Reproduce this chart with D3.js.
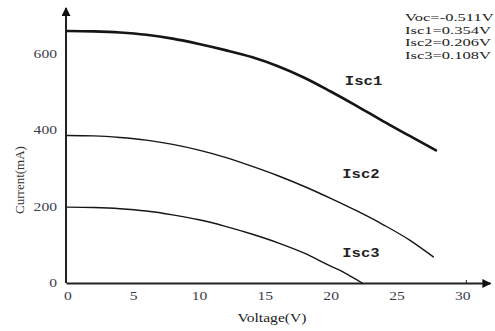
<!DOCTYPE html>
<html>
<head>
<meta charset="utf-8">
<script src="https://cdn.jsdelivr.net/npm/d3@7"></script>
<style>
  html, body { margin: 0; padding: 0; background: #fff; }
  #chart { width: 495px; height: 331px; }
</style>
</head>
<body>
<div id="chart"></div>
<script>
// --- DATA ---
const VOLTAGE_1 = [0, 2, 4, 6, 8, 10, 12, 14, 16, 18, 20, 22, 24, 26, 28];
const CURRENT_1 = [658, 657, 654, 648, 638, 624, 608, 590, 566, 536, 500, 462, 422, 384, 346];

const VOLTAGE_2 = [0, 2, 4, 6, 8, 10, 12, 14, 16, 18, 20, 22, 24, 26, 27.8];
const CURRENT_2 = [385, 384, 380, 373, 362, 347, 328, 305, 280, 252, 221, 188, 152, 112, 68];

const VOLTAGE_3 = [0, 2, 4, 6, 8, 10, 12, 14, 16, 18, 20, 21, 22, 22.4];
const CURRENT_3 = [198, 197, 194, 188, 178, 165, 148, 128, 105, 78, 44, 28, 8, 0];

const SERIES_NAMES = ["Isc1", "Isc2", "Isc3"];
const X_TICKS = [0, 5, 10, 15, 20, 25, 30];
const Y_TICKS = [0, 200, 400, 600];
const NOTES = ["Voc=-0.511V", "Isc1=0.354V", "Isc2=0.206V", "Isc3=0.108V"];

// where the curve names sit, in data units
const NAME_V = [22.5, 22.3, 22.3];
const NAME_I = [525, 282, 76];

// --- CONFIG ---
const WIDTH = 495;
const HEIGHT = 331;
const STRETCH = 1.3; // the source image is squashed sideways, text looks wide
const SERIF = "'Liberation Serif', 'Times New Roman', serif";

const x = d3.scaleLinear().domain([-0.1, 32.1]).range([66, 490]);
const y = d3.scaleLinear().domain([0, 718]).range([283, 8]);

const series = [
    { name: SERIES_NAMES[0], v: VOLTAGE_1, i: CURRENT_1, width: 2.6 },
    { name: SERIES_NAMES[1], v: VOLTAGE_2, i: CURRENT_2, width: 1.4 },
    { name: SERIES_NAMES[2], v: VOLTAGE_3, i: CURRENT_3, width: 1.4 }
].map((s, k) => ({ ...s, points: s.v.map((v, j) => ({ v, i: s.i[j] })), nameV: NAME_V[k], nameI: NAME_I[k] }));

// widen text glyphs in place
function stretch(sel, k) {
    sel.each(function () {
        const len = this.getComputedTextLength();
        d3.select(this).attr("textLength", len * k).attr("lengthAdjust", "spacingAndGlyphs");
    });
}

const svg = d3.select("#chart")
    .append("svg")
    .attr("width", WIDTH)
    .attr("height", HEIGHT)
    .style("background", "#fff");

const defs = svg.append("defs");
defs.append("marker")
    .attr("id", "arrow")
    .attr("viewBox", "0 0 10 10")
    .attr("refX", 9)
    .attr("refY", 5)
    .attr("markerUnits", "userSpaceOnUse")
    .attr("markerWidth", 12)
    .attr("markerHeight", 9)
    .attr("orient", "auto")
    .append("path")
    .attr("d", "M0,0L10,5L0,10z")
    .attr("fill", "#111");

// axes
const xAxis = d3.axisBottom(x).tickValues(X_TICKS).tickSize(0).tickSizeOuter(0).tickPadding(8);
const yAxis = d3.axisLeft(y).tickValues(Y_TICKS).tickSize(0).tickSizeOuter(0).tickPadding(9);

const gx = svg.append("g")
    .attr("transform", `translate(0,${y(0)})`)
    .call(xAxis);
gx.select(".domain").attr("stroke", "#222").attr("stroke-width", 2).attr("marker-end", "url(#arrow)");
gx.selectAll("text")
    .attr("font-family", SERIF).attr("font-size", 12).attr("fill", "#3b3b4d")
    .call(stretch, STRETCH);
// the only visible tick stub, at 30 V
gx.append("line")
    .attr("x1", x(30) + 4).attr("x2", x(30) + 4)
    .attr("y1", 0).attr("y2", -3)
    .attr("stroke", "#222").attr("stroke-width", 1);

const gy = svg.append("g")
    .attr("transform", `translate(${x(-0.1)},0)`)
    .call(yAxis);
gy.select(".domain")
    .attr("d", `M0,${y(0)}V${y(718)}`)
    .attr("stroke", "#222").attr("stroke-width", 2).attr("marker-end", "url(#arrow)");
gy.selectAll("text")
    .attr("font-family", SERIF).attr("font-size", 12).attr("fill", "#3b3b4d")
    .call(stretch, STRETCH);

// axis titles
svg.append("text")
    .attr("x", 272).attr("y", 322)
    .attr("text-anchor", "middle")
    .attr("font-family", SERIF).attr("font-size", 12).attr("fill", "#222")
    .text("Voltage(V)")
    .call(stretch, STRETCH);

svg.append("text")
    .attr("transform", `translate(24,180) rotate(-90)`)
    .attr("text-anchor", "middle")
    .attr("font-family", SERIF).attr("font-size", 13).attr("fill", "#333")
    .text("Current(mA)");

// curves
const line = d3.line()
    .x(d => x(d.v))
    .y(d => y(d.i))
    .curve(d3.curveMonotoneX);

svg.selectAll("path.curve")
    .data(series)
    .join("path")
    .attr("class", "curve")
    .attr("d", d => line(d.points))
    .attr("fill", "none")
    .attr("stroke", "#151515")
    .attr("stroke-width", d => d.width)
    .attr("stroke-linecap", "round");

// curve names
svg.selectAll("text.name")
    .data(series)
    .join("text")
    .attr("class", "name")
    .attr("x", d => x(d.nameV))
    .attr("y", d => y(d.nameI))
    .attr("text-anchor", "middle")
    .attr("dominant-baseline", "middle")
    .attr("font-family", "'Liberation Mono', 'Courier New', monospace")
    .attr("font-weight", "bold")
    .attr("font-size", 12)
    .attr("fill", "#222")
    .text(d => d.name)
    .call(stretch, STRETCH);

// parameter notes, top right
svg.append("g")
    .selectAll("text")
    .data(NOTES)
    .join("text")
    .attr("x", 405)
    .attr("y", (d, k) => 21 + k * 12.6)
    .attr("font-family", SERIF)
    .attr("font-size", 11)
    .attr("fill", "#222")
    .text(d => d)
    .call(stretch, 1.5);
</script>
</body>
</html>
